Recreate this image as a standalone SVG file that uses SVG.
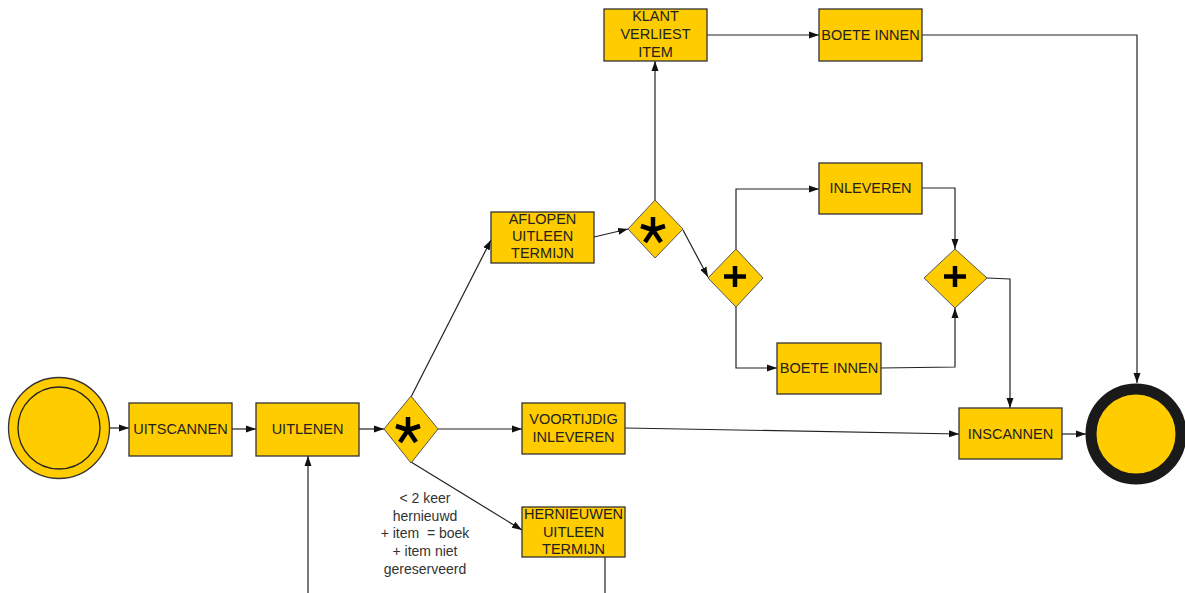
<svg xmlns="http://www.w3.org/2000/svg" width="1185" height="593" viewBox="0 0 1185 593">
<style>
.box{fill:#FFCC00;stroke:#333;stroke-width:1.3}
.gw{fill:#FFCC00;stroke:#555;stroke-width:1}
.t{font-family:"Liberation Sans",Arial,sans-serif;font-size:14.5px;fill:#222;text-anchor:middle}
.l{font-family:"Liberation Sans",Arial,sans-serif;font-size:14px;fill:#333;text-anchor:middle;white-space:pre}
.c{fill:none;stroke:#222;stroke-width:1.2}
.mk{stroke:#000;stroke-width:4.5;stroke-linecap:butt;fill:none}
</style>
<defs>
<marker id="a" viewBox="0 0 10 10" refX="10" refY="5" markerWidth="10" markerHeight="10" markerUnits="userSpaceOnUse" orient="auto">
<path d="M0,1.5 L10,5 L0,8.5 Z" fill="#111"/>
</marker>
</defs>
<g id="connectors">
<path class="c" marker-end="url(#a)" d="M110,428 L129,428"/>
<path class="c" marker-end="url(#a)" d="M232,429 L256,429"/>
<path class="c" marker-end="url(#a)" d="M359,429 L384,429"/>
<path class="c" marker-end="url(#a)" d="M438,429 L522,429"/>
<path class="c" marker-end="url(#a)" d="M411,397 L491,240"/>
<path class="c" marker-end="url(#a)" d="M411,462 L522,530"/>
<path class="c" marker-end="url(#a)" d="M605,557 L605,605 L308,605 L308,456"/>
<path class="c" marker-end="url(#a)" d="M594,237 L628,229"/>
<path class="c" marker-end="url(#a)" d="M655,200 L655,61"/>
<path class="c" marker-end="url(#a)" d="M707,35 L819,35"/>
<path class="c" marker-end="url(#a)" d="M922,35 L1137,35 L1137,383"/>
<path class="c" marker-end="url(#a)" d="M683,230 L708,277"/>
<path class="c" marker-end="url(#a)" d="M736,249 L736,189 L819,189"/>
<path class="c" marker-end="url(#a)" d="M736,307 L736,368 L777,368"/>
<path class="c" marker-end="url(#a)" d="M922,188 L955,188 L955,249"/>
<path class="c" marker-end="url(#a)" d="M881,368 L955,367 L955,308"/>
<path class="c" marker-end="url(#a)" d="M987,278 L1010,279 L1010,408"/>
<path class="c" marker-end="url(#a)" d="M625,428 L959,434"/>
<path class="c" marker-end="url(#a)" d="M1062,434 L1086,434"/>
</g>
<g id="start">
<circle cx="59" cy="428" r="50.5" fill="#FFCC00" stroke="#333" stroke-width="1.3"/>
<circle cx="59" cy="428" r="41" fill="none" stroke="#222" stroke-width="1.3"/>
</g>
<g id="end">
<circle cx="1136" cy="434" r="45" fill="#FFCC00" stroke="#1a1a1a" stroke-width="11"/>
</g>
<g id="uitscannen"><rect class="box" x="129" y="403" width="103" height="53"/><text class="t" x="180.5" y="434">UITSCANNEN</text></g>
<g id="uitlenen"><rect class="box" x="256" y="403" width="103" height="53"/><text class="t" x="307.5" y="434">UITLENEN</text></g>
<g id="gw1"><path class="gw" d="M411,396 L438,429 L411,463 L384,429 Z"/>
<path class="mk" d="M408,430 L408,417 M408,430 L420,426 M408,430 L396,426 M408,430 L416,442 M408,430 L400,442"/></g>
<g id="voortijdig"><rect class="box" x="522" y="403" width="103" height="51"/><text class="t" x="573.5" y="424">VOORTIJDIG</text><text class="t" x="573.5" y="442">INLEVEREN</text></g>
<g id="hernieuwen"><rect class="box" x="522" y="507" width="103" height="50"/><text class="t" x="573.5" y="519">HERNIEUWEN</text><text class="t" x="573.5" y="537">UITLEEN</text><text class="t" x="573.5" y="554">TERMIJN</text></g>
<g id="condition"><text class="l" x="425" y="503">&lt; 2 keer</text><text class="l" x="425" y="521">hernieuwd</text><text class="l" x="425" y="538" xml:space="preserve">+ item  = boek</text><text class="l" x="425" y="556">+ item niet</text><text class="l" x="425" y="574">gereserveerd</text></g>
<g id="aflopen"><rect class="box" x="491" y="212" width="103" height="51"/><text class="t" x="542.5" y="224">AFLOPEN</text><text class="t" x="542.5" y="241">UITLEEN</text><text class="t" x="542.5" y="258">TERMIJN</text></g>
<g id="gw2"><path class="gw" d="M655,200 L683,229 L655,258 L628,229 Z"/>
<path class="mk" d="M653,230 L653,217 M653,230 L665,226 M653,230 L641,226 M653,230 L661,242 M653,230 L645,242"/></g>
<g id="klant"><rect class="box" x="604" y="9" width="103" height="52"/><text class="t" x="655.5" y="21">KLANT</text><text class="t" x="655.5" y="39">VERLIEST</text><text class="t" x="655.5" y="57">ITEM</text></g>
<g id="boete1"><rect class="box" x="819" y="9" width="103" height="52"/><text class="t" x="870.5" y="40">BOETE INNEN</text></g>
<g id="gw3"><path class="gw" d="M736,249 L763,278 L736,307 L708,278 Z"/>
<path class="mk" d="M724,276.5 L746,276.5 M735,266 L735,287" stroke-width="5"/></g>
<g id="inleveren"><rect class="box" x="819" y="163" width="103" height="51"/><text class="t" x="870.5" y="193">INLEVEREN</text></g>
<g id="boete2"><rect class="box" x="777" y="343" width="104" height="51"/><text class="t" x="829" y="373">BOETE INNEN</text></g>
<g id="gw4"><path class="gw" d="M955,249 L987,278 L955,308 L924,278 Z"/>
<path class="mk" d="M944,276.5 L966,276.5 M955,266 L955,287" stroke-width="5"/></g>
<g id="inscannen"><rect class="box" x="959" y="408" width="103" height="51"/><text class="t" x="1010.5" y="439">INSCANNEN</text></g>
</svg>
